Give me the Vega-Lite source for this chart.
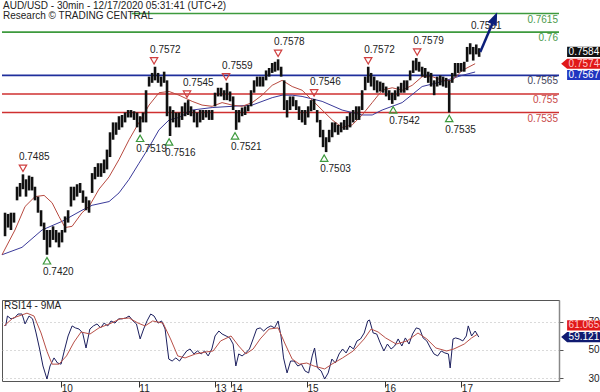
{
  "$schema": "https://vega.github.io/schema/vega-lite/v6.json",
  "padding": 0,
  "background": "white",
  "spacing": 0,
  "config": {"font": "Liberation Sans", "view": {"stroke": null}},
  "datasets": {
    "levels": [
      {"i": 81, "i2": 348, "v": 0.7615, "n": "R2"},
      {"i": 0, "i2": 348, "v": 0.76, "n": "R1"},
      {"i": 0, "i2": 348, "v": 0.7565, "n": "P"},
      {"i": 0, "i2": 348, "v": 0.755, "n": "S1"},
      {"i": 0, "i2": 348, "v": 0.7535, "n": "S2"}
    ],
    "px": [
      {"i":1.9,"h":0.7454,"l":0.7435},{"i":3.8,"h":0.7453,"l":0.7442},{"i":5.6,"h":0.7454,"l":0.7440},{"i":7.5,"h":0.7454,"l":0.7446},
      {"i":9.4,"h":0.7475,"l":0.7464},{"i":11.3,"h":0.7478,"l":0.7467},{"i":13.1,"h":0.7485,"l":0.7473},{"i":15,"h":0.7481,"l":0.7467},
      {"i":16.9,"h":0.7484,"l":0.7472},{"i":18.8,"h":0.7483,"l":0.7472},{"i":20.6,"h":0.7475,"l":0.7464},{"i":22.5,"h":0.7467,"l":0.7454},
      {"i":24.4,"h":0.7456,"l":0.7443},{"i":26.3,"h":0.7446,"l":0.7432},{"i":28.1,"h":0.7440,"l":0.7420},{"i":30,"h":0.7440,"l":0.7426},
      {"i":31.9,"h":0.7443,"l":0.7432},{"i":33.8,"h":0.7440,"l":0.7430},{"i":35.6,"h":0.7438,"l":0.7426},{"i":37.5,"h":0.7440,"l":0.7430},
      {"i":39.4,"h":0.7451,"l":0.7438},{"i":41.3,"h":0.7456,"l":0.7446},{"i":43.1,"h":0.7475,"l":0.7459},{"i":45,"h":0.7475,"l":0.7464},
      {"i":46.9,"h":0.7477,"l":0.7467},{"i":48.8,"h":0.7478,"l":0.7470},{"i":50.6,"h":0.7472,"l":0.7462},{"i":52.5,"h":0.7467,"l":0.7456},
      {"i":54.4,"h":0.7464,"l":0.7454},{"i":56.3,"h":0.7486,"l":0.7470},{"i":58.1,"h":0.7491,"l":0.7481},{"i":60,"h":0.7494,"l":0.7483},
      {"i":61.9,"h":0.7494,"l":0.7483},{"i":63.8,"h":0.7497,"l":0.7486},{"i":65.6,"h":0.7505,"l":0.7489},{"i":67.5,"h":0.7519,"l":0.7499},
      {"i":69.4,"h":0.7527,"l":0.7513},{"i":71.3,"h":0.7527,"l":0.7517},{"i":73.1,"h":0.7532,"l":0.7521},{"i":75,"h":0.7533,"l":0.7523},
      {"i":76.9,"h":0.7535,"l":0.7527},{"i":78.8,"h":0.7537,"l":0.7531},{"i":80.6,"h":0.7537,"l":0.7531},{"i":82.5,"h":0.7536,"l":0.7529},
      {"i":84.4,"h":0.7535,"l":0.7523},{"i":86.3,"h":0.7532,"l":0.7519},{"i":88.1,"h":0.7535,"l":0.7527},{"i":90,"h":0.7553,"l":0.7527},
      {"i":91.9,"h":0.7564,"l":0.7556},{"i":93.8,"h":0.7567,"l":0.7559},{"i":95.6,"h":0.7572,"l":0.7561},{"i":97.5,"h":0.7567,"l":0.7559},
      {"i":99.4,"h":0.7564,"l":0.7556},{"i":101.3,"h":0.7568,"l":0.7559},{"i":103.1,"h":0.7561,"l":0.7532},{"i":105,"h":0.7540,"l":0.7516},
      {"i":106.9,"h":0.7537,"l":0.7527},{"i":108.8,"h":0.7535,"l":0.7523},{"i":110.6,"h":0.7535,"l":0.7523},{"i":112.5,"h":0.7540,"l":0.7529},
      {"i":114.4,"h":0.7543,"l":0.7532},{"i":116.3,"h":0.7545,"l":0.7533},{"i":118.1,"h":0.7540,"l":0.7532},{"i":120,"h":0.7537,"l":0.7527},
      {"i":121.9,"h":0.7535,"l":0.7523},{"i":123.8,"h":0.7537,"l":0.7527},{"i":125.6,"h":0.7537,"l":0.7529},{"i":127.5,"h":0.7537,"l":0.7531},
      {"i":129.4,"h":0.7537,"l":0.7529},{"i":131.3,"h":0.7537,"l":0.7529},{"i":133.1,"h":0.7551,"l":0.7540},{"i":135,"h":0.7555,"l":0.7548},
      {"i":136.9,"h":0.7555,"l":0.7548},{"i":138.8,"h":0.7553,"l":0.7545},{"i":140.6,"h":0.7559,"l":0.7545},{"i":142.5,"h":0.7552,"l":0.7544},
      {"i":144.4,"h":0.7548,"l":0.7537},{"i":146.3,"h":0.7537,"l":0.7521},{"i":148.1,"h":0.7537,"l":0.7527},{"i":150,"h":0.7539,"l":0.7532},
      {"i":151.9,"h":0.7540,"l":0.7533},{"i":153.8,"h":0.7541,"l":0.7536},{"i":155.6,"h":0.7553,"l":0.7540},{"i":157.5,"h":0.7561,"l":0.7551},
      {"i":159.4,"h":0.7564,"l":0.7556},{"i":161.3,"h":0.7564,"l":0.7556},{"i":163.1,"h":0.7564,"l":0.7556},{"i":165,"h":0.7569,"l":0.7561},
      {"i":166.9,"h":0.7571,"l":0.7564},{"i":168.8,"h":0.7575,"l":0.7567},{"i":170.6,"h":0.7576,"l":0.7568},{"i":172.5,"h":0.7578,"l":0.7569},
      {"i":174.4,"h":0.7572,"l":0.7564},{"i":176.3,"h":0.7561,"l":0.7537},{"i":178.1,"h":0.7545,"l":0.7531},{"i":180,"h":0.7548,"l":0.7537},
      {"i":181.9,"h":0.7548,"l":0.7540},{"i":183.8,"h":0.7545,"l":0.7537},{"i":185.6,"h":0.7540,"l":0.7529},{"i":187.5,"h":0.7537,"l":0.7527},
      {"i":189.4,"h":0.7537,"l":0.7525},{"i":191.3,"h":0.7540,"l":0.7531},{"i":193.1,"h":0.7545,"l":0.7536},{"i":195,"h":0.7546,"l":0.7537},
      {"i":196.9,"h":0.7537,"l":0.7527},{"i":198.8,"h":0.7529,"l":0.7515},{"i":200.6,"h":0.7521,"l":0.7507},{"i":202.5,"h":0.7515,"l":0.7503},
      {"i":204.4,"h":0.7521,"l":0.7511},{"i":206.3,"h":0.7527,"l":0.7515},{"i":208.1,"h":0.7527,"l":0.7519},{"i":210,"h":0.7525,"l":0.7517},
      {"i":211.9,"h":0.7527,"l":0.7519},{"i":213.8,"h":0.7529,"l":0.7521},{"i":215.6,"h":0.7532,"l":0.7521},{"i":217.5,"h":0.7535,"l":0.7523},
      {"i":219.4,"h":0.7537,"l":0.7527},{"i":221.3,"h":0.7540,"l":0.7529},{"i":223.1,"h":0.7540,"l":0.7529},{"i":225,"h":0.7553,"l":0.7537},
      {"i":226.9,"h":0.7564,"l":0.7553},{"i":228.8,"h":0.7572,"l":0.7559},{"i":230.6,"h":0.7567,"l":0.7556},{"i":232.5,"h":0.7564,"l":0.7553},
      {"i":234.4,"h":0.7561,"l":0.7551},{"i":236.3,"h":0.7560,"l":0.7552},{"i":238.1,"h":0.7559,"l":0.7551},{"i":240,"h":0.7556,"l":0.7548},
      {"i":241.9,"h":0.7553,"l":0.7545},{"i":243.8,"h":0.7551,"l":0.7542},{"i":245.6,"h":0.7553,"l":0.7545},{"i":247.5,"h":0.7556,"l":0.7548},
      {"i":249.4,"h":0.7559,"l":0.7551},{"i":251.3,"h":0.7561,"l":0.7551},{"i":253.1,"h":0.7561,"l":0.7553},{"i":255,"h":0.7569,"l":0.7561},
      {"i":256.9,"h":0.7577,"l":0.7567},{"i":258.8,"h":0.7579,"l":0.7569},{"i":260.6,"h":0.7576,"l":0.7568},{"i":262.5,"h":0.7572,"l":0.7564},
      {"i":264.4,"h":0.7571,"l":0.7563},{"i":266.3,"h":0.7568,"l":0.7559},{"i":268.1,"h":0.7567,"l":0.7556},{"i":270,"h":0.7561,"l":0.7549},
      {"i":271.9,"h":0.7564,"l":0.7556},{"i":273.8,"h":0.7565,"l":0.7557},{"i":275.6,"h":0.7564,"l":0.7556},{"i":277.5,"h":0.7563,"l":0.7555},
      {"i":279.4,"h":0.7561,"l":0.7535},{"i":281.3,"h":0.7567,"l":0.7559},{"i":283.1,"h":0.7575,"l":0.7564},{"i":285,"h":0.7575,"l":0.7567},
      {"i":286.9,"h":0.7575,"l":0.7568},{"i":288.8,"h":0.7576,"l":0.7568},{"i":290.6,"h":0.7588,"l":0.7576},{"i":292.5,"h":0.7591,"l":0.7582},
      {"i":294.4,"h":0.7588,"l":0.7577},{"i":296.3,"h":0.7590,"l":0.7582},{"i":298.1,"h":0.7587,"l":0.7580}
    ],
    "maR": [
      {"i":0,"v":0.7420},{"i":8.1,"v":0.7440},{"i":14.4,"v":0.7459},{"i":20.6,"v":0.7467},{"i":26.3,"v":0.7468},{"i":31.3,"v":0.7462},
      {"i":35.6,"v":0.7451},{"i":39.4,"v":0.7442},{"i":43.8,"v":0.7443},{"i":50,"v":0.7454},{"i":54.4,"v":0.7459},{"i":60.6,"v":0.7473},
      {"i":66.9,"v":0.7483},{"i":73.1,"v":0.7497},{"i":79.4,"v":0.7513},{"i":85.6,"v":0.7527},{"i":91.9,"v":0.7541},{"i":98.1,"v":0.7551},
      {"i":104.4,"v":0.7552},{"i":110.6,"v":0.7549},{"i":118.8,"v":0.7544},{"i":125,"v":0.7541},{"i":131.3,"v":0.7540},{"i":137.5,"v":0.7543},
      {"i":143.8,"v":0.7541},{"i":150,"v":0.7540},{"i":156.3,"v":0.7543},{"i":162.5,"v":0.7549},{"i":168.8,"v":0.7557},{"i":175,"v":0.7561},
      {"i":181.3,"v":0.7556},{"i":187.5,"v":0.7553},{"i":193.8,"v":0.7545},{"i":200,"v":0.7537},{"i":206.3,"v":0.7529},{"i":212.5,"v":0.7523},
      {"i":218.8,"v":0.7525},{"i":225,"v":0.7533},{"i":231.3,"v":0.7543},{"i":237.5,"v":0.7553},{"i":243.8,"v":0.7555},{"i":250,"v":0.7553},
      {"i":256.3,"v":0.7557},{"i":262.5,"v":0.7564},{"i":268.8,"v":0.7564},{"i":275,"v":0.7561},{"i":281.3,"v":0.7561},{"i":287.5,"v":0.7569},
      {"i":295.6,"v":0.757445}
    ],
    "maB": [
      {"i":0,"v":0.7420},{"i":12.5,"v":0.7426},{"i":25,"v":0.7440},{"i":37.5,"v":0.7447},{"i":50,"v":0.7456},{"i":56.3,"v":0.7460},
      {"i":66.9,"v":0.7463},{"i":73.1,"v":0.7470},{"i":79.4,"v":0.7481},{"i":85.6,"v":0.7494},{"i":91.9,"v":0.7507},{"i":98.1,"v":0.7521},
      {"i":104.4,"v":0.7529},{"i":110.6,"v":0.7531},{"i":118.8,"v":0.7537},{"i":131.3,"v":0.7539},{"i":143.8,"v":0.7540},{"i":156.3,"v":0.7541},
      {"i":168.8,"v":0.7547},{"i":175,"v":0.7549},{"i":181.3,"v":0.7549},{"i":187.5,"v":0.7548},{"i":200,"v":0.7544},{"i":212.5,"v":0.7537},
      {"i":225,"v":0.7533},{"i":231.3,"v":0.7533},{"i":237.5,"v":0.7537},{"i":250,"v":0.7543},{"i":262.5,"v":0.7556},{"i":275,"v":0.7560},
      {"i":287.5,"v":0.7565},{"i":295.6,"v":0.756775}
    ],
    "hi": [
      {"i":13.1,"v":0.7485},{"i":95,"v":0.7572},{"i":115.6,"v":0.7545},{"i":140,"v":0.7559},
      {"i":172.5,"v":0.7578},{"i":195,"v":0.7546},{"i":228.8,"v":0.7572},{"i":259.4,"v":0.7579}
    ],
    "lo": [
      {"i":28.1,"v":0.742},{"i":86.3,"v":0.7519},{"i":104.4,"v":0.7516},{"i":145.6,"v":0.7521},
      {"i":201.3,"v":0.7503},{"i":244.4,"v":0.7542},{"i":279.4,"v":0.7535}
    ],
    "arrow": [{"i":298.8,"v":0.7584},{"i":307.4,"v":0.7610}],
    "rsi": [
      {"i":2.3,"r":67},{"i":3.4,"r":74},{"i":5.6,"r":72},{"i":7.8,"r":72.6},{"i":10,"r":75.4},{"i":12.5,"r":75.4},{"i":14.4,"r":68.4},
      {"i":16.9,"r":74},{"i":19.1,"r":72},{"i":21.3,"r":62},{"i":23.5,"r":50.7},{"i":25.6,"r":38.7},{"i":28.1,"r":29.5},{"i":30,"r":38.7},
      {"i":32.5,"r":44.4},{"i":34.7,"r":40.8},{"i":36.9,"r":40},{"i":39.2,"r":50.7},{"i":41.3,"r":59.9},{"i":43.8,"r":67},{"i":45.9,"r":65.6},
      {"i":48.1,"r":64.8},{"i":50.4,"r":62},{"i":52.5,"r":51.4},{"i":54.9,"r":64.8},{"i":57.1,"r":67},{"i":59.4,"r":68.4},{"i":61.6,"r":65.6},
      {"i":63.8,"r":69},{"i":66.1,"r":67},{"i":68.1,"r":70.5},{"i":70.6,"r":69},{"i":72.8,"r":72},{"i":75,"r":72},{"i":77.3,"r":72.6},
      {"i":79.4,"r":74},{"i":81.9,"r":70.5},{"i":84,"r":68.4},{"i":86.3,"r":57.8},{"i":88.5,"r":64.8},{"i":90.6,"r":70.5},{"i":92.9,"r":75.4},
      {"i":95,"r":74},{"i":97.5,"r":69},{"i":99.7,"r":70.5},{"i":101.9,"r":64.8},{"i":104.2,"r":43.6},{"i":106.3,"r":42.2},{"i":108.6,"r":44.4},
      {"i":110.9,"r":42.2},{"i":113.1,"r":45.8},{"i":115.4,"r":49.3},{"i":117.5,"r":50.7},{"i":119.9,"r":47.2},{"i":122.1,"r":49.3},
      {"i":124.4,"r":47.2},{"i":126.6,"r":49.3},{"i":128.8,"r":45.8},{"i":131.1,"r":50.7},{"i":133.1,"r":59.9},{"i":135.5,"r":63.4},
      {"i":137.5,"r":61.3},{"i":140,"r":59.9},{"i":142.3,"r":58.5},{"i":144.4,"r":54.2},{"i":146.1,"r":38.7},{"i":147.9,"r":47.2},
      {"i":150,"r":45.8},{"i":152.3,"r":47.9},{"i":154.6,"r":50.7},{"i":156.9,"r":57.8},{"i":159.1,"r":64.8},{"i":161.3,"r":65.6},
      {"i":163.5,"r":63.4},{"i":165.6,"r":65.6},{"i":168,"r":67},{"i":170.3,"r":65.6},{"i":172.5,"r":70.5},{"i":174.3,"r":59.9},
      {"i":175.9,"r":44.4},{"i":178.1,"r":33.8},{"i":180.3,"r":42.2},{"i":182.5,"r":42.2},{"i":184.8,"r":38.7},{"i":187.1,"r":40},
      {"i":189.3,"r":35.2},{"i":191.6,"r":33.8},{"i":193.8,"r":45.8},{"i":195.3,"r":51.4},{"i":197.1,"r":37.3},{"i":199.4,"r":35.2},
      {"i":201.6,"r":29.5},{"i":203.8,"r":33.8},{"i":206.1,"r":43.6},{"i":208.3,"r":40.8},{"i":210.6,"r":47.2},{"i":212.8,"r":50.7},
      {"i":215,"r":47.9},{"i":217.3,"r":52.8},{"i":219.6,"r":50.7},{"i":221.8,"r":56.4},{"i":224,"r":57.8},{"i":226.3,"r":62},
      {"i":228.5,"r":70.5},{"i":229.6,"r":71.2},{"i":231.9,"r":62},{"i":234.1,"r":61.3},{"i":236.3,"r":55},{"i":238.6,"r":49.3},
      {"i":240.8,"r":54.2},{"i":243.1,"r":50.7},{"i":245.3,"r":52.8},{"i":247.5,"r":57.8},{"i":249.8,"r":52.8},{"i":252,"r":58.5},
      {"i":254.3,"r":54.2},{"i":256.5,"r":61.3},{"i":258.8,"r":65.6},{"i":261,"r":64.8},{"i":263.1,"r":58.5},{"i":265.4,"r":56.4},
      {"i":267.7,"r":51.4},{"i":269.9,"r":47.2},{"i":272.2,"r":45.8},{"i":274.4,"r":49.3},{"i":276.7,"r":47.9},{"i":278.9,"r":47.2},
      {"i":280,"r":37.3},{"i":281.8,"r":57.8},{"i":283.4,"r":58.5},{"i":285.6,"r":57.8},{"i":287.9,"r":56.4},{"i":290.1,"r":59.9},
      {"i":291.3,"r":67},{"i":293.4,"r":59.9},{"i":295.6,"r":63.4},{"i":297.9,"r":59.1217}
    ],
    "rsiMA": [
      {"i":1.3,"r":67},{"i":6.9,"r":72.6},{"i":15.6,"r":76},{"i":20,"r":74},{"i":24.4,"r":62},{"i":28.1,"r":49},{"i":31.3,"r":40},
      {"i":35.6,"r":40},{"i":40.3,"r":45.8},{"i":45,"r":55.6},{"i":49.4,"r":62.7},{"i":55,"r":61.3},{"i":60.6,"r":65.6},{"i":67.2,"r":68.4},
      {"i":73.8,"r":72},{"i":79.4,"r":72.6},{"i":85,"r":69},{"i":89.4,"r":67},{"i":94.1,"r":70.5},{"i":100.6,"r":69},{"i":105.3,"r":57.8},
      {"i":109.8,"r":45.8},{"i":114.4,"r":44.4},{"i":120.9,"r":47.2},{"i":127.5,"r":48.6},{"i":131.9,"r":49.3},{"i":136.6,"r":56.4},
      {"i":143.1,"r":59.9},{"i":147.9,"r":52.8},{"i":152.3,"r":47.2},{"i":156.9,"r":50.7},{"i":161.3,"r":57.8},{"i":166.9,"r":64.8},
      {"i":172.5,"r":65.6},{"i":176.9,"r":54.2},{"i":181.3,"r":43.6},{"i":185.9,"r":40},{"i":190.4,"r":40.8},{"i":194.9,"r":38.7},
      {"i":201.6,"r":36.6},{"i":206.1,"r":40},{"i":212.8,"r":44.4},{"i":219.4,"r":49.3},{"i":226.3,"r":57.8},{"i":230.6,"r":64.8},
      {"i":235,"r":62.7},{"i":239.7,"r":58.5},{"i":246.3,"r":54.2},{"i":253.1,"r":56.4},{"i":259.9,"r":62},{"i":265.4,"r":57.8},
      {"i":271.1,"r":51.4},{"i":277.8,"r":49.3},{"i":282.3,"r":50.7},{"i":288.8,"r":54.2},{"i":293.4,"r":58.5},{"i":296.9,"r":61.0653}
    ]
  },
  "vconcat": [
    {
      "width": 557,
      "height": 299,
      "title": {"text": ["AUD/USD - 30min - 12/17/2020 05:31:41 (UTC+2)", "Research © TRADING CENTRAL"], "anchor": "start", "frame": "group", "offset": -21, "fontSize": 10, "fontWeight": "normal", "color": "#222", "lineHeight": 10, "dx": 1},
      "encoding": {
        "x": {"field": "i", "type": "quantitative", "scale": {"domain": [0, 348], "nice": false, "zero": false}, "axis": null},
        "y": {"field": "v", "type": "quantitative", "scale": {"domain": [0.738424, 0.762595], "nice": false, "zero": false},
              "axis": {"orient": "right", "values": [0.7414, 0.7473, 0.7532, 0.7592], "format": ".4f", "grid": true, "gridDash": [1, 3], "gridColor": "#b4b4b4", "tickSize": 5, "tickColor": "#555", "labelPadding": 8, "labelFontSize": 10, "labelColor": "#222", "domainColor": "#888", "domainWidth": 1.5, "title": null}}
      },
      "layer": [
        {"data": {"name": "levels"}, "mark": {"type": "rule", "strokeWidth": 1.6},
         "encoding": {"x2": {"field": "i2"},
                      "stroke": {"field": "n", "type": "nominal", "scale": {"domain": ["R2", "R1", "P", "S1", "S2"], "range": ["#3d9a3d", "#3d9a3d", "#1f2e9c", "#cf3030", "#cf3030"]}, "legend": null}}},
        {"data": {"name": "levels"}, "mark": {"type": "text", "align": "right", "baseline": "top", "dx": -1, "dy": 1, "fontSize": 10},
         "encoding": {"x": {"field": "i2", "type": "quantitative", "axis": null},
                      "text": {"field": "v", "type": "quantitative", "format": ".4~f"},
                      "fill": {"field": "n", "type": "nominal", "scale": {"domain": ["R2", "R1", "P", "S1", "S2"], "range": ["#4c9a4c", "#4c9a4c", "#44445a", "#c84848", "#c84848"]}, "legend": null}}},
        {"data": {"name": "maB"}, "mark": {"type": "line", "color": "#3a3a9a", "strokeWidth": 1}, "encoding": {}},
        {"data": {"name": "maR"}, "mark": {"type": "line", "color": "#b84a40", "strokeWidth": 1}, "encoding": {}},
        {"data": {"name": "px"}, "mark": {"type": "rule", "color": "#111", "strokeWidth": 2.6},
         "encoding": {"y": {"field": "l", "type": "quantitative", "axis": null}, "y2": {"field": "h"}}},
        {"data": {"name": "hi"}, "mark": {"type": "point", "shape": "triangle-down", "filled": false, "stroke": "#d04040", "strokeWidth": 1.2, "size": 55, "opacity": 1, "yOffset": -6}},
        {"data": {"name": "hi"}, "mark": {"type": "text", "align": "left", "baseline": "middle", "dx": -4, "dy": -17, "fontSize": 10, "color": "#222"},
         "encoding": {"text": {"field": "v", "type": "quantitative", "format": ".4f"}}},
        {"data": {"name": "lo"}, "mark": {"type": "point", "shape": "triangle-up", "filled": false, "stroke": "#3d9a3d", "strokeWidth": 1.2, "size": 55, "opacity": 1, "yOffset": 6}},
        {"data": {"name": "lo"}, "mark": {"type": "text", "align": "left", "baseline": "middle", "dx": -4, "dy": 17, "fontSize": 10, "color": "#222"},
         "encoding": {"text": {"field": "v", "type": "quantitative", "format": ".4f"}}},
        {"data": {"values": [{"i": 293, "v": 0.7605, "lab": "0.7591"}]}, "mark": {"type": "text", "align": "left", "baseline": "middle", "fontSize": 10, "color": "#222"},
         "encoding": {"text": {"field": "lab"}}},
        {"data": {"name": "arrow"}, "mark": {"type": "line", "color": "#0c1f7a", "strokeWidth": 2.5}, "encoding": {}},
        {"data": {"values": [{"i": 307.4, "v": 0.7610}]}, "mark": {"type": "point", "shape": "M0,-1L0.62,0.6L-0.62,0.6Z", "size": 256, "angle": 23, "filled": true, "fill": "#0c1f7a", "opacity": 1, "strokeWidth": 0}},
        {"data": {"values": [{"i": 364, "v": 0.7584}]}, "mark": {"type": "point", "shape": "M-1,-0.29L1,-0.29L1,0.29L-1,0.29Z", "size": 1225, "filled": true, "fill": "#111", "opacity": 1, "strokeWidth": 0}},
        {"data": {"values": [{"i": 364, "v": 0.7584, "lab": "0.7584"}]}, "mark": {"type": "text", "align": "left", "baseline": "middle", "dx": -16, "fontSize": 10, "color": "white"},
         "encoding": {"text": {"field": "lab"}}},
        {"data": {"values": [{"i": 364, "v": 0.757445}]}, "mark": {"type": "point", "shape": "M-1.34,0L-1,-0.29L1,-0.29L1,0.29L-1,0.29Z", "size": 1225, "filled": true, "fill": "#e01818", "opacity": 1, "strokeWidth": 0}},
        {"data": {"values": [{"i": 364, "v": 0.757445, "lab": "0.757445"}]}, "mark": {"type": "text", "align": "left", "baseline": "middle", "dx": -16, "fontSize": 10, "color": "#ffc8c8"},
         "encoding": {"text": {"field": "lab"}}},
        {"data": {"values": [{"i": 364, "v": 0.756775}]}, "mark": {"type": "point", "shape": "M-1,-0.29L1,-0.29L1,0.29L-1,0.29Z", "size": 1225, "filled": true, "fill": "#2036c0", "opacity": 1, "strokeWidth": 0, "yOffset": 3}},
        {"data": {"values": [{"i": 364, "v": 0.756775, "lab": "0.756775"}]}, "mark": {"type": "text", "align": "left", "baseline": "middle", "dx": -16, "dy": 3, "fontSize": 10, "color": "white"},
         "encoding": {"text": {"field": "lab"}}}
      ]
    },
    {
      "width": 557,
      "height": 81,
      "view": {"stroke": "#555"},
      "title": {"text": "RSI14 - 9MA", "anchor": "start", "frame": "group", "offset": -11, "fontSize": 10, "fontWeight": "normal", "color": "#222", "dx": 2},
      "encoding": {
        "x": {"field": "i", "type": "quantitative", "scale": {"domain": [0, 348], "nice": false, "zero": false},
              "axis": {"orient": "bottom", "values": [37, 85.5, 133, 143, 190.5, 239, 287], "labelExpr": "datum.value < 40 ? '10' : datum.value < 90 ? '11' : datum.value < 140 ? '13' : datum.value < 150 ? '14' : datum.value < 200 ? '15' : datum.value < 250 ? '16' : '17'", "domain": false, "ticks": true, "tickSize": 6, "tickColor": "#333", "labelAlign": "left", "labelBaseline": "top", "labelPadding": -4, "labelDx": 2, "labelFontSize": 10, "labelColor": "#222", "grid": false, "title": null}},
        "y": {"field": "r", "type": "quantitative", "scale": {"domain": [28.1, 85.3], "nice": false, "zero": false},
              "axis": {"orient": "right", "values": [30, 50, 70], "grid": true, "gridDash": [1, 3], "gridColor": "#b4b4b4", "tickSize": 4, "tickColor": "#555", "labelPadding": 36, "labelAlign": "right", "labelFontSize": 10, "labelColor": "#222", "domainColor": "#888", "domainWidth": 1.5, "title": null}}
      },
      "layer": [
        {"data": {"name": "rsi"}, "mark": {"type": "line", "color": "#1c1f5e", "strokeWidth": 1}, "encoding": {}},
        {"data": {"name": "rsiMA"}, "mark": {"type": "line", "color": "#b85048", "strokeWidth": 1}, "encoding": {}},
        {"data": {"values": [{"i": 364, "r": 61.0653}]}, "mark": {"type": "point", "shape": "M-1,-0.29L1,-0.29L1,0.29L-1,0.29Z", "size": 1225, "filled": true, "fill": "#e01818", "opacity": 1, "strokeWidth": 0, "yOffset": -9}},
        {"data": {"values": [{"i": 364, "r": 61.0653, "lab": "61.0653"}]}, "mark": {"type": "text", "align": "left", "baseline": "middle", "dx": -16, "dy": -9, "fontSize": 10, "color": "#ffc8c8"},
         "encoding": {"text": {"field": "lab"}}},
        {"data": {"values": [{"i": 364, "r": 59.1217}]}, "mark": {"type": "point", "shape": "M-1.34,0L-1,-0.29L1,-0.29L1,0.29L-1,0.29Z", "size": 1225, "filled": true, "fill": "#0f1a70", "opacity": 1, "strokeWidth": 0}},
        {"data": {"values": [{"i": 364, "r": 59.1217, "lab": "59.1217"}]}, "mark": {"type": "text", "align": "left", "baseline": "middle", "dx": -16, "fontSize": 10, "color": "white"},
         "encoding": {"text": {"field": "lab"}}}
      ]
    }
  ]
}
